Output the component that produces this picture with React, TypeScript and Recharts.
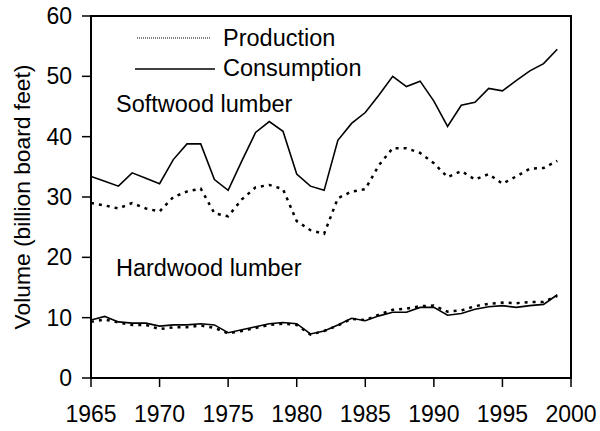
import React from "react";
import { LineChart, Line, XAxis, YAxis, ReferenceArea } from "recharts";

const years = [1965,1966,1967,1968,1969,1970,1971,1972,1973,1974,1975,1976,1977,1978,1979,1980,1981,1982,1983,1984,1985,1986,1987,1988,1989,1990,1991,1992,1993,1994,1995,1996,1997,1998,1999];
const softConsumption = [33.4,32.6,31.8,34.0,33.1,32.2,36.2,38.8,38.8,32.9,31.1,36.0,40.7,42.5,40.9,33.8,31.8,31.1,39.4,42.2,44.0,46.9,50.0,48.3,49.2,45.9,41.7,45.2,45.7,48.0,47.6,49.3,50.9,52.1,54.5];
const softProduction = [29.0,28.6,28.1,29.0,28.1,27.6,30.0,30.9,31.4,27.3,26.8,29.6,31.6,32.0,31.3,26.0,24.5,23.9,29.8,30.9,31.3,35.3,38.1,38.1,37.3,35.6,33.3,34.3,32.9,33.8,32.2,33.4,34.7,34.8,36.0];
const hardConsumption = [9.6,10.2,9.3,9.1,9.1,8.6,8.8,8.8,9.0,8.8,7.5,8.0,8.5,9.0,9.2,9.0,7.3,7.8,8.8,9.9,9.5,10.3,10.9,10.9,11.7,11.7,10.4,10.7,11.4,11.8,12.0,11.7,12.0,12.2,13.8];
const hardProduction = [9.3,9.7,9.2,8.8,8.8,8.1,8.4,8.4,8.7,8.3,7.4,7.8,8.3,8.8,9.0,8.8,7.2,7.8,8.7,9.8,9.6,10.5,11.3,11.5,11.9,12.0,11.0,11.2,11.9,12.3,12.5,12.4,12.6,12.6,13.6];
const xTicks = [1965,1970,1975,1980,1985,1990,1995,2000];
const yTicks = [0,10,20,30,40,50,60];
const yLabel = "Volume (billion board feet)";
const legendItems = ["Production", "Consumption"];
const groupLabels = ["Softwood lumber", "Hardwood lumber"];

const data = years.map((y, i) => ({
  year: y,
  sc: softConsumption[i],
  sp: softProduction[i],
  hc: hardConsumption[i],
  hp: hardProduction[i],
}));

const FONT = "'Liberation Sans', Arial, sans-serif";
const LBL = 23.5;

const LegendBox = () => (
  <svg width={600} height={431} style={{ position: "absolute", left: 0, top: 0, pointerEvents: "none" }}>
    <line x1={137} y1={38} x2={211} y2={38} stroke="#000" strokeWidth={1} strokeDasharray="1 1" />
    <text x={223} y={38} fontFamily={FONT} fontSize={LBL} dominantBaseline="central" fill="#000">{legendItems[0]}</text>
    <line x1={135} y1={69} x2={215} y2={69} stroke="#000" strokeWidth={1.5} />
    <text x={223} y={68} fontFamily={FONT} fontSize={LBL} dominantBaseline="central" fill="#000">{legendItems[1]}</text>
    <text x={116} y={104} fontFamily={FONT} fontSize={LBL} dominantBaseline="central" fill="#000">{groupLabels[0]}</text>
    <text x={116} y={268} fontFamily={FONT} fontSize={LBL} dominantBaseline="central" fill="#000">{groupLabels[1]}</text>
  </svg>
);

const YLabel = () => (
  <text
    x={22}
    y={197}
    transform="rotate(-90 22 197)"
    textAnchor="middle"
    dominantBaseline="central"
    fontFamily={FONT}
    fontSize={22.8}
    fill="#000"
  >
    {yLabel}
  </text>
);

export default function App() {
  return (
    <div style={{ position: "absolute", left: 0, top: 0, width: 600, height: 431, background: "#fff" }}>
      <LineChart width={600} height={431} data={data} margin={{ top: 16, right: 29, bottom: 0, left: 0 }}>
        <XAxis
          dataKey="year"
          type="number"
          domain={[1965, 2000]}
          ticks={xTicks}
          allowDataOverflow
          height={53}
          tickSize={9}
          tickMargin={19}
          axisLine={{ stroke: "#000", strokeWidth: 2 }}
          tickLine={{ stroke: "#000", strokeWidth: 1.5 }}
          tick={{ fill: "#000", fontSize: 23, fontFamily: FONT }}
          interval={0}
        />
        <YAxis
          type="number"
          domain={[0, 60]}
          ticks={yTicks}
          width={91}
          tickSize={9}
          tickMargin={10}
          axisLine={{ stroke: "#000", strokeWidth: 2 }}
          tickLine={{ stroke: "#000", strokeWidth: 1.5 }}
          tick={{ fill: "#000", fontSize: 23, fontFamily: FONT }}
          interval={0}
          label={<YLabel />}
        />
        <ReferenceArea x1={1965} x2={2000} y1={0} y2={60} fill="none" stroke="#000" strokeWidth={2} ifOverflow="visible" />
        <Line dataKey="sc" stroke="#000" strokeWidth={1.6} dot={false} isAnimationActive={false} type="linear" />
        <Line dataKey="sp" stroke="#000" strokeWidth={2.5} strokeDasharray="3 5" dot={false} isAnimationActive={false} type="linear" />
        <Line dataKey="hc" stroke="#000" strokeWidth={1.6} dot={false} isAnimationActive={false} type="linear" />
        <Line dataKey="hp" stroke="#000" strokeWidth={2.5} strokeDasharray="3 5" dot={false} isAnimationActive={false} type="linear" />
      </LineChart>
      <LegendBox />
    </div>
  );
}
